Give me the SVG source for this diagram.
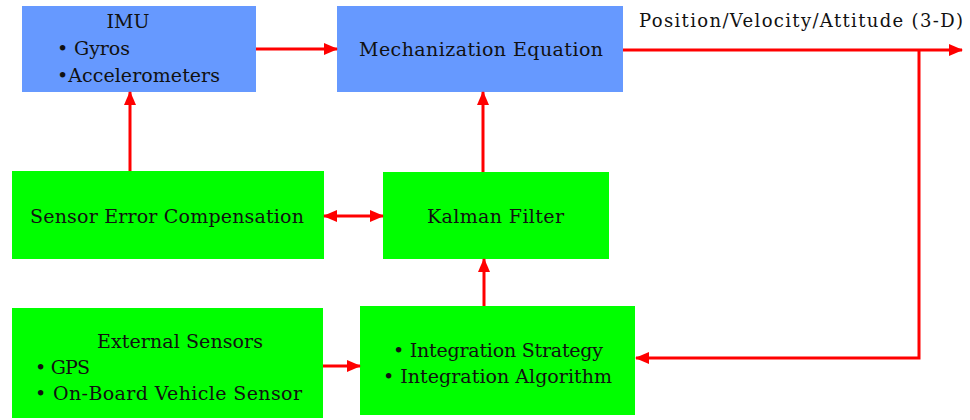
<svg xmlns="http://www.w3.org/2000/svg" width="970" height="420" viewBox="0 0 970 420">
  <style>
    .imu { fill: #6699ff; }
    .grn { fill: #00ff00; }
    .lbl { font-family: "DejaVu Serif", "Liberation Serif", serif; font-size: 19px; fill: #111; }
    .wire { stroke: #ff0000; stroke-width: 3; fill: none; }
  </style>
  <defs>
    <marker id="head" viewBox="0 0 14 12" refX="13" refY="6" markerWidth="14" markerHeight="12" markerUnits="userSpaceOnUse" orient="auto-start-reverse">
      <path d="M0,0 L14,6 L0,12 Z" fill="#ff0000"/>
    </marker>
  </defs>
  <rect width="970" height="420" fill="#ffffff"/>

  <g id="imu">
    <rect class="imu" x="22" y="6" width="234" height="86"/>
    <text class="lbl" x="128" y="28" text-anchor="middle">IMU</text>
    <text class="lbl" x="57" y="55" textLength="73">• Gyros</text>
    <text class="lbl" x="57" y="82" textLength="163">•Accelerometers</text>
  </g>

  <g id="mechanization">
    <rect class="imu" x="337" y="6" width="286" height="86"/>
    <text class="lbl" x="359" y="56" textLength="244">Mechanization Equation</text>
  </g>

  <g id="output-label">
    <text class="lbl" x="639" y="27" textLength="324" style="font-size:18px">Position/Velocity/Attitude (3-D)</text>
  </g>

  <g id="sensor-error">
    <rect class="grn" x="12" y="171" width="312" height="88"/>
    <text class="lbl" x="30" y="223" textLength="274">Sensor Error Compensation</text>
  </g>

  <g id="kalman">
    <rect class="grn" x="383" y="172" width="226" height="87"/>
    <text class="lbl" x="427" y="223" textLength="137">Kalman Filter</text>
  </g>

  <g id="external">
    <rect class="grn" x="12" y="308" width="311" height="110"/>
    <text class="lbl" x="97" y="348" textLength="166">External Sensors</text>
    <text class="lbl" x="35" y="374" textLength="55">• GPS</text>
    <text class="lbl" x="35" y="400" textLength="267">• On-Board Vehicle Sensor</text>
  </g>

  <g id="integration">
    <rect class="grn" x="360" y="306" width="275" height="109"/>
    <text class="lbl" x="393" y="357" textLength="210">• Integration Strategy</text>
    <text class="lbl" x="383" y="383" textLength="229">• Integration Algorithm</text>
  </g>

  <g id="connectors">
    <line class="wire" x1="256" y1="49" x2="337" y2="49" marker-end="url(#head)"/>
    <line class="wire" x1="623" y1="50" x2="962" y2="50" marker-end="url(#head)"/>
    <polyline class="wire" points="919,50 919,358 636,358" marker-end="url(#head)"/>
    <line class="wire" x1="130" y1="171" x2="130" y2="92" marker-end="url(#head)"/>
    <line class="wire" x1="483" y1="172" x2="483" y2="92" marker-end="url(#head)"/>
    <line class="wire" x1="324" y1="216" x2="383" y2="216" marker-start="url(#head)" marker-end="url(#head)"/>
    <line class="wire" x1="484" y1="306" x2="484" y2="259" marker-end="url(#head)"/>
    <line class="wire" x1="323" y1="366" x2="360" y2="366" marker-end="url(#head)"/>
  </g>
</svg>
